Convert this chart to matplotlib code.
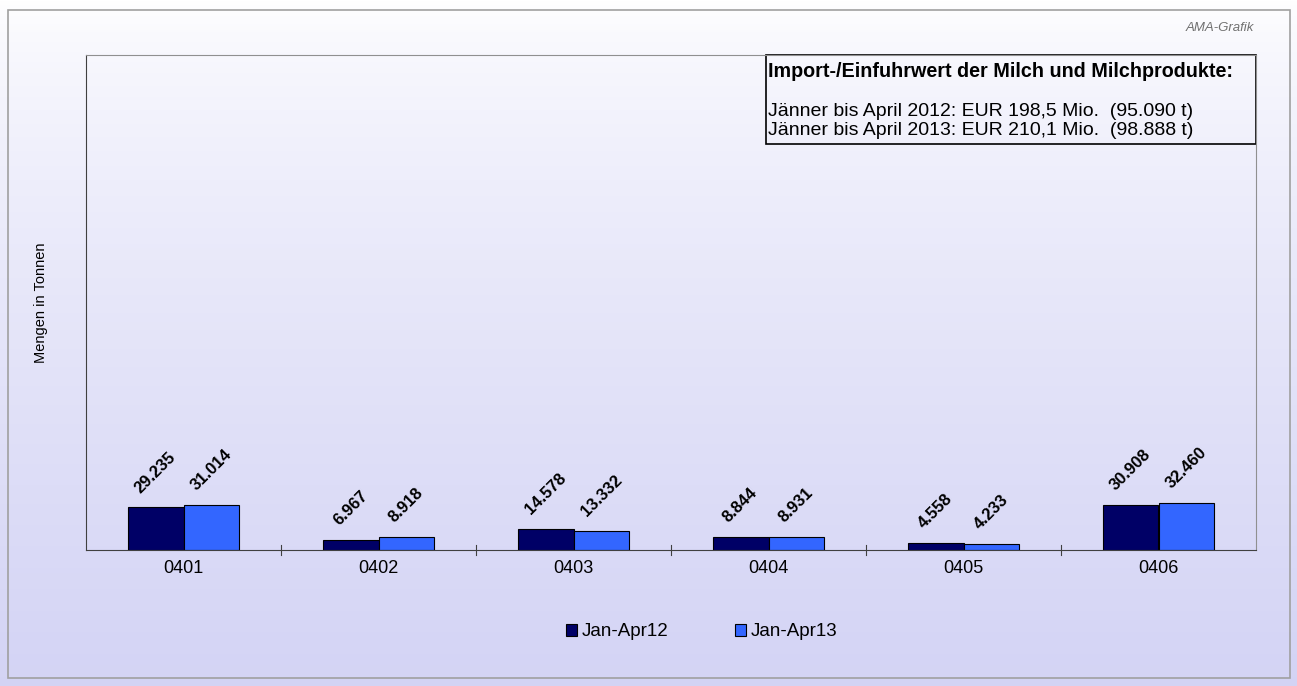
import numpy as np
import matplotlib.pyplot as plt
from matplotlib.patches import Rectangle

categories = ['0401', '0402', '0403', '0404', '0405', '0406']
jan_apr12 = [29235, 6967, 14578, 8844, 4558, 30908]
jan_apr13 = [31014, 8918, 13332, 8931, 4233, 32460]
labels12 = ['29.235', '6.967', '14.578', '8.844', '4.558', '30.908']
labels13 = ['31.014', '8.918', '13.332', '8.931', '4.233', '32.460']
series_names = ['Jan-Apr12', 'Jan-Apr13']

plt.rcParams['font.family'] = ['Liberation Sans', 'DejaVu Sans']

fig = plt.figure(figsize=(12.97, 6.86), dpi=100)

# background gradient white -> lavender
bg = fig.add_axes([0, 0, 1, 1], zorder=0)
grad = np.linspace(0, 1, 256).reshape(-1, 1)
top = np.array([1.0, 1.0, 1.0])
bot = np.array([0.83, 0.83, 0.96])
img = top + (bot - top) * grad[..., None] ** 0.7
img = img[:, 0, :][:, None, :]
bg.imshow(img, aspect='auto', extent=[0, 1, 0, 1])
bg.set_xlim(0, 1)
bg.set_ylim(0, 1)
bg.axis('off')
bg.add_patch(Rectangle((8 / 1297, 8 / 686), 1282 / 1297, 668 / 686,
                       fill=False, edgecolor='#a0a0a0', lw=1.2))

ax = fig.add_axes([86 / 1297, 1 - 550 / 686, 1170 / 1297, 495 / 686], zorder=1)
ax.patch.set_alpha(0)

x = np.arange(len(categories))
w = 0.287
ax.bar(x - w / 2, jan_apr12, w, color='#000066', edgecolor='black', lw=0.8,
       label=series_names[0])
ax.bar(x + w / 2, jan_apr13, w, color='#3366ff', edgecolor='black', lw=0.8,
       label=series_names[1])

for i in range(len(categories)):
    ax.annotate(labels12[i], (x[i] - w / 2, jan_apr12[i]), xytext=(0, 8.5),
                textcoords='offset points', rotation=45, ha='center',
                va='bottom', fontsize=12, fontweight='bold')
    ax.annotate(labels13[i], (x[i] + w / 2, jan_apr13[i]), xytext=(0, 8.5),
                textcoords='offset points', rotation=45, ha='center',
                va='bottom', fontsize=12, fontweight='bold')

ax.set_xlim(-0.5, len(categories) - 0.5)
ax.set_ylim(0, 340000)
ax.set_yticks([])
ax.set_xticks(x)
ax.set_xticklabels(categories, fontsize=13)
ax.tick_params(axis='x', length=0, pad=7)
for b in np.arange(0.5, len(categories) - 0.5):
    ax.plot([b, b], [-3500, 3500], color='#404040', lw=0.8, clip_on=False)
for s in ['left', 'bottom']:
    ax.spines[s].set_color('#404040')
for s in ['top', 'right']:
    ax.spines[s].set_color('#909090')

ax.set_ylabel('Mengen in Tonnen', fontsize=10.5, labelpad=27)

ax.text(0.583, 0.966, 'Import-/Einfuhrwert der Milch und Milchprodukte:',
        transform=ax.transAxes, fontsize=14.2, fontweight='bold', va='center')
ax.text(0.583, 0.885, 'Jänner bis April 2012: EUR 198,5 Mio.  (95.090 t)',
        transform=ax.transAxes, fontsize=14, va='center')
ax.text(0.583, 0.848, 'Jänner bis April 2013: EUR 210,1 Mio.  (98.888 t)',
        transform=ax.transAxes, fontsize=14, va='center')
ax.add_patch(Rectangle((0.5815, 0.820), 0.4185, 0.180, transform=ax.transAxes,
                       fill=False, edgecolor='black', lw=1.2, clip_on=False))

fig.text(1220 / 1297, 1 - 28 / 686, 'AMA-Grafik', fontsize=9.5, style='italic',
         color='#707070', ha='center', va='center')

fig.legend(loc='center', bbox_to_anchor=(0.541, 1 - 632 / 686), ncol=2,
           frameon=False, fontsize=13.5, handlelength=0.55, handleheight=0.55,
           columnspacing=3.6, handletextpad=0.25)

fig.savefig('out.png', dpi=100)
